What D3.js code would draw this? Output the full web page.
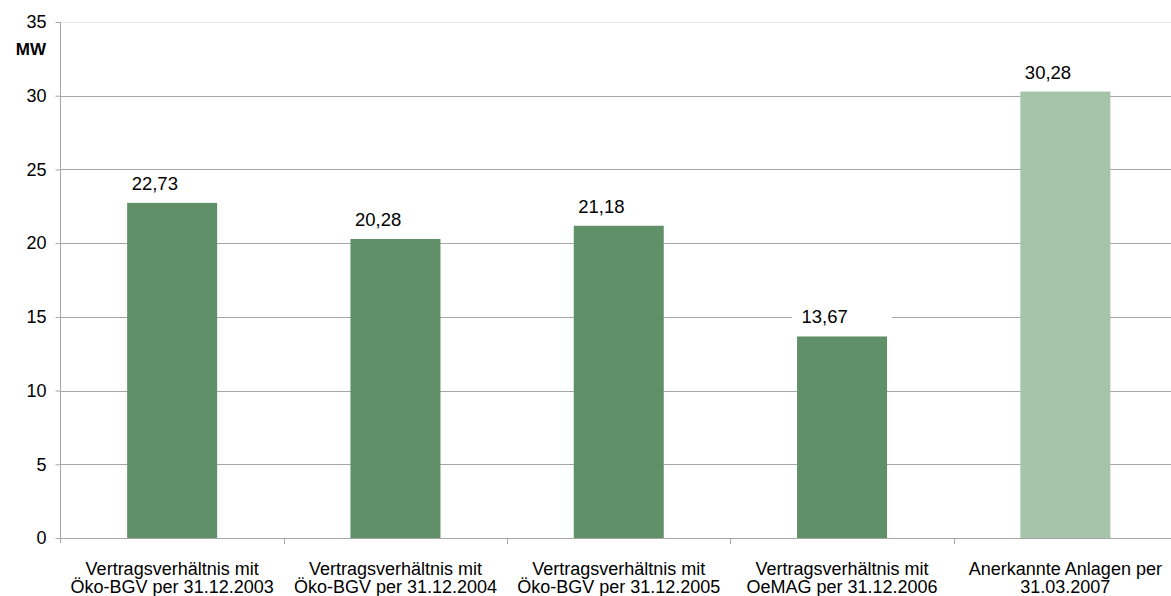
<!DOCTYPE html>
<html>
<head>
<meta charset="utf-8">
<script src="https://cdn.jsdelivr.net/npm/d3@7"></script>
<style>
  body { margin: 0; background: #fff; }
  text { font-family: "Liberation Sans", Arial, sans-serif; }
</style>
</head>
<body>
<div id="chart-area"></div>
<script>
// data
const categories = [
	["Vertragsverhältnis mit", "Öko-BGV per 31.12.2003"],
	["Vertragsverhältnis mit", "Öko-BGV per 31.12.2004"],
	["Vertragsverhältnis mit", "Öko-BGV per 31.12.2005"],
	["Vertragsverhältnis mit", "OeMAG per 31.12.2006"],
	["Anerkannte Anlagen per", "31.03.2007"]
];
const values = [22.73, 20.28, 21.18, 13.67, 30.28];
const valueLabels = ["22,73", "20,28", "21,18", "13,67", "30,28"];
const yTicks = [0, 5, 10, 15, 20, 25, 30, 35];
const barColors = ["#5f9068", "#5f9068", "#5f9068", "#5f9068", "#a5c4a9"];

const W = 1171, H = 596;
const plotLeft = 60.5, plotRight = 1177, plotTop = 22, plotBottom = 538;

var svg = d3.select("#chart-area")
	.append("svg")
		.attr("width", W)
		.attr("height", H);

// scales
var x = d3.scaleBand()
	.domain(d3.range(categories.length))
	.range([plotLeft, plotRight])
	.paddingInner(0.597)
	.paddingOuter(0.2985);

var y = d3.scaleLinear()
	.domain([0, 35])
	.range([plotBottom, plotTop]);

// gridlines
svg.append("g")
	.selectAll("line")
	.data(yTicks.filter(d => d > 0))
	.enter().append("line")
		.attr("x1", plotLeft)
		.attr("x2", W)
		.attr("y1", d => Math.round(y(d)) + 0.5)
		.attr("y2", d => Math.round(y(d)) + 0.5)
		.attr("stroke", d => d === 35 ? "#e8e8e8" : "#a6a6a6")
		.attr("stroke-width", 1);

// bars
svg.append("g")
	.selectAll("rect")
	.data(values)
	.enter().append("rect")
		.attr("x", (d, i) => x(i))
		.attr("width", x.bandwidth())
		.attr("y", d => y(d))
		.attr("height", d => plotBottom - y(d))
		.attr("fill", (d, i) => barColors[i]);

// y-axis
var yAxis = d3.axisLeft(y)
	.tickValues(yTicks)
	.tickSize(5)
	.tickPadding(9)
	.tickFormat(d3.format("d"));

var yAxisGroup = svg.append("g")
	.attr("transform", "translate(" + plotLeft + ",0)")
	.call(yAxis);
yAxisGroup.select(".domain")
	.attr("d", "M0," + plotTop + "V" + (plotBottom + 5))
	.attr("stroke", "#a6a6a6");
yAxisGroup.selectAll(".tick line").attr("stroke", "#a6a6a6");
yAxisGroup.selectAll(".tick text")
	.attr("font-size", "18px")
	.attr("fill", "#000")
	.style("font-family", "'Liberation Sans', Arial, sans-serif");

// x-axis line + category ticks
svg.append("line")
	.attr("x1", plotLeft)
	.attr("x2", W)
	.attr("y1", plotBottom + 0.5)
	.attr("y2", plotBottom + 0.5)
	.attr("stroke", "#a6a6a6");

svg.append("g")
	.selectAll("line")
	.data(d3.range(1, categories.length))
	.enter().append("line")
		.attr("x1", i => Math.round(x(i) - x.step() * x.paddingInner() / 2) + 0.5)
		.attr("x2", i => Math.round(x(i) - x.step() * x.paddingInner() / 2) + 0.5)
		.attr("y1", plotBottom)
		.attr("y2", plotBottom + 6)
		.attr("stroke", "#a6a6a6");

// category labels
var catG = svg.append("g")
	.selectAll("text")
	.data(categories)
	.enter().append("text")
		.attr("text-anchor", "middle")
		.attr("font-size", "18px")
		.attr("fill", "#000");
catG.each(function(d, i) {
	var cx = x(i) + x.bandwidth() / 2;
	d3.select(this).selectAll("tspan")
		.data(d)
		.enter().append("tspan")
			.attr("x", cx)
			.attr("y", (t, j) => 575 + j * 18)
			.text(t => t);
});

// value labels with white boxes
var lbl = svg.append("g")
	.selectAll("g")
	.data(values)
	.enter().append("g");

lbl.append("rect")
	.attr("x", (d, i) => x(i) + x.bandwidth() / 2 - 50)
	.attr("y", d => y(d) - 30)
	.attr("width", 100)
	.attr("height", 22)
	.attr("fill", "#fff");

lbl.append("text")
	.attr("x", (d, i) => x(i) + x.bandwidth() / 2 - 40.5)
	.attr("y", d => y(d) - 13)
	.attr("font-size", "18.5px")
	.attr("fill", "#000")
	.text((d, i) => valueLabels[i]);

// unit label
svg.append("text")
	.attr("x", 46)
	.attr("y", 55)
	.attr("text-anchor", "end")
	.attr("font-size", "17px")
	.attr("font-weight", "bold")
	.attr("fill", "#000")
	.text("MW");
</script>
</body>
</html>
